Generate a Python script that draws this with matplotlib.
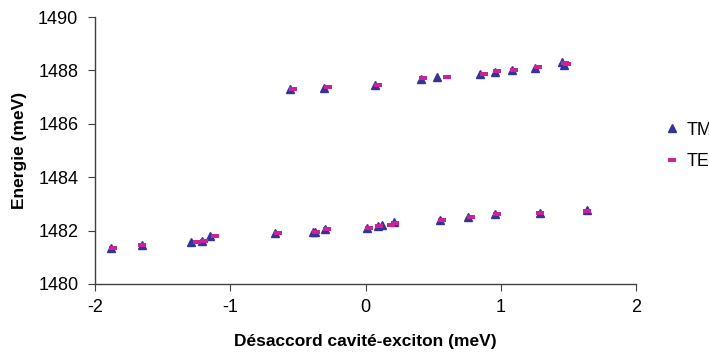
import matplotlib.pyplot as plt

plt.rcParams['font.family'] = ['Liberation Sans', 'DejaVu Sans']
plt.rcParams['axes.unicode_minus'] = False

# TM branch (blue triangles)
tm_low_x = [-1.88, -1.65, -1.29, -1.21, -1.15, -0.67, -0.39, -0.37, -0.30,
            0.01, 0.09, 0.12, 0.21, 0.55, 0.76, 0.96, 1.29, 1.64]
tm_low_y = [1481.35, 1481.45, 1481.56, 1481.61, 1481.81, 1481.91, 1481.95, 1481.95, 1482.06,
            1482.11, 1482.16, 1482.21, 1482.34, 1482.41, 1482.51, 1482.61, 1482.66, 1482.79]
tm_up_x = [-0.555, -0.31, 0.07, 0.41, 0.525, 0.85, 0.96, 1.08, 1.255, 1.45, 1.465]
tm_up_y = [1487.29, 1487.35, 1487.45, 1487.69, 1487.77, 1487.85, 1487.94, 1488.0, 1488.1, 1488.31, 1488.19]

# TE branch (magenta dashes)
te_low_x = [-1.87, -1.65, -1.245, -1.195, -1.115, -0.65, -0.365, -0.285,
            0.025, 0.10, 0.19, 0.22, 0.565, 0.78, 0.97, 1.29, 1.64]
te_low_y = [1481.35, 1481.46, 1481.56, 1481.61, 1481.81, 1481.91, 1481.95, 1482.06,
            1482.11, 1482.16, 1482.22, 1482.3, 1482.41, 1482.51, 1482.61, 1482.66, 1482.75]
te_up_x = [-0.535, -0.28, 0.095, 0.425, 0.605, 0.875, 0.975, 1.10, 1.275, 1.475, 1.49]
te_up_y = [1487.31, 1487.36, 1487.46, 1487.71, 1487.77, 1487.85, 1487.96, 1488.0, 1488.12, 1488.27, 1488.23]

tm_color = '#333399'
te_color = '#cc2299'
dash = [(-1, -0.5), (1, -0.5), (1, 0.5), (-1, 0.5), (-1, -0.5)]

fig = plt.figure(figsize=(7.09, 3.58), dpi=100)
ax = fig.add_axes([95 / 709, 1 - 284 / 358, (636 - 95) / 709, (284 - 17) / 358])

ax.plot(tm_low_x + tm_up_x, tm_low_y + tm_up_y, linestyle='none', marker='^',
        color=tm_color, markersize=5.5, label='TM')
ax.plot(te_low_x + te_up_x, te_low_y + te_up_y, linestyle='none', marker=dash,
        color=te_color, markersize=5.5, markeredgewidth=0, label='TE')

ax.set_xlim(-2, 2)
ax.set_ylim(1480, 1490)
ax.set_xticks([-2, -1, 0, 1, 2])
ax.set_yticks([1480, 1482, 1484, 1486, 1488, 1490])
ax.spines['top'].set_visible(False)
ax.spines['right'].set_visible(False)
for s in ['left', 'bottom']:
    ax.spines[s].set_color('#404040')
    ax.spines[s].set_linewidth(1)
ax.tick_params(axis='both', direction='out', length=5, color='#404040', labelsize=13)
ax.tick_params(axis='y', pad=7)
ax.tick_params(axis='x', pad=6)

ax.set_xlabel('Désaccord cavité-exciton (meV)', fontsize=12.5, fontweight='bold', labelpad=13)
ax.set_ylabel('Energie (meV)', fontsize=12.5, fontweight='bold', labelpad=8)

# legend sits at the right edge, partly cut off as in the original
ax.legend(loc='center left', bbox_to_anchor=(665 / 709, 1 - 146 / 358), bbox_transform=fig.transFigure,
          frameon=False, fontsize=13, handlelength=0.8, handletextpad=0.4, labelspacing=0.8,
          borderaxespad=0, borderpad=0)

fig.savefig('out.png', dpi=100)
